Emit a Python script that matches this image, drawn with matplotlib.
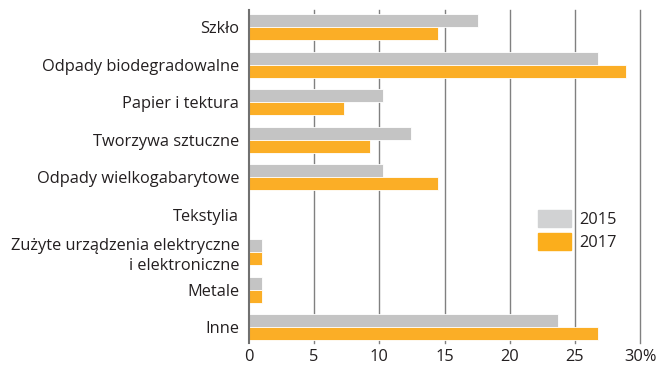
import numpy as np
import matplotlib.pyplot as plt

plt.rcParams['font.family'] = ['Open Sans', 'DejaVu Sans']

# --- Data (share of waste stream, %) ---
categories = [
    "Szkło",
    "Odpady biodegradowalne",
    "Papier i tektura",
    "Tworzywa sztuczne",
    "Odpady wielkogabarytowe",
    "Tekstylia",
    "Zużyte urządzenia elektryczne\ni elektroniczne",
    "Metale",
    "Inne",
]
values_2015 = [17.6, 26.8, 10.3, 12.4, 10.3, 0.0, 1.0, 1.0, 23.7]
values_2017 = [14.5, 28.9, 7.25, 9.3, 14.5, 0.0, 1.0, 1.0, 26.8]
ticks = [0, 5, 10, 15, 20, 25, 30]
tick_labels = ["0", "5", "10", "15", "20", "25", "30%"]

gray = "#c4c4c4"
orange = "#fbae26"
text_color = "#231f20"
fs = 11.8

fig = plt.figure(figsize=(6.64, 3.70), dpi=100)
ax = fig.add_axes([0.375, 0.073, 0.589, 0.9])

y = np.arange(len(categories))
h = 0.35
ax.barh(y - h / 2, values_2015, height=h, color=gray, edgecolor="white",
        linewidth=0.6, zorder=3)
ax.barh(y + h / 2, values_2017, height=h, color=orange, edgecolor="white",
        linewidth=0.6, zorder=3)

ax.set_xlim(0, 30)
ax.set_ylim(8.42, -0.46)

# vertical grid lines
for t in ticks[1:]:
    ax.axvline(t, color="#808080", linewidth=1.0, zorder=1, clip_on=False)

for s in ["top", "right", "bottom"]:
    ax.spines[s].set_visible(False)
ax.spines["left"].set_color("#707070")
ax.spines["left"].set_linewidth(1.5)
ax.spines["left"].set_zorder(4)

ax.set_yticks(y)
ax.set_yticklabels(categories, fontsize=fs, color=text_color, linespacing=1.3)
ax.tick_params(axis="y", length=0, pad=7)
ax.set_xticks(ticks)
ax.set_xticklabels(tick_labels, fontsize=fs, color=text_color)
ax.tick_params(axis="x", length=0, pad=4)

# legend with plain colour swatches
handles = [plt.Rectangle((0, 0), 1, 1, color="#d1d2d3"),
           plt.Rectangle((0, 0), 1, 1, color="#fbae1c")]
leg = ax.legend(handles, ["2015", "2017"], loc="upper left",
                bbox_to_anchor=(0.810, 0.432),
                bbox_transform=fig.transFigure, frameon=False,
                fontsize=fs, handlelength=2.0, handleheight=1.2,
                handletextpad=0.55, labelspacing=0.3, borderpad=0,
                borderaxespad=0)
for t in leg.get_texts():
    t.set_color(text_color)

plt.savefig("out.png", dpi=100)
